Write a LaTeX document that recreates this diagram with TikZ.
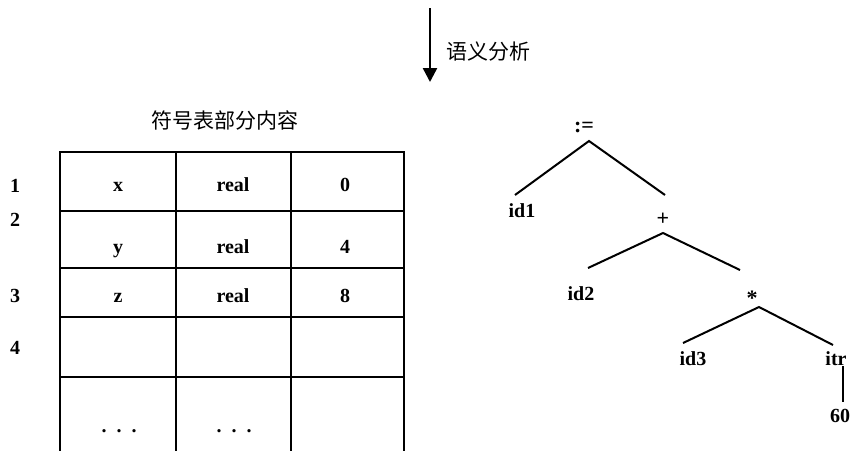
\documentclass[tikz,border=0pt]{standalone}
\usepackage{fontspec}
\setmainfont{Liberation Serif}
\newfontfamily\cjk{Noto Sans CJK SC}
\usetikzlibrary{arrows.meta}
\begin{document}
\begin{tikzpicture}[x=1pt,y=-1pt,
  txt/.style={inner sep=0pt,anchor=base,font=\bfseries\fontsize{20}{20}\selectfont},
  sym/.style={inner sep=0pt,font=\bfseries\fontsize{22}{22}\selectfont},
  cjktxt/.style={inner sep=0pt,font=\cjk\fontsize{21}{21}\selectfont},
  grid/.style={line width=1.8pt},
  edge/.style={line width=2pt}]
\useasboundingbox (0,0) rectangle (856,451);
% arrow and label
\coordinate (atop) at (430,8);
\coordinate (abot) at (430,82);
\draw[line width=2.5pt,-{Triangle[width=14pt,length=14pt]}] (atop) -- (abot);
\node[cjktxt,anchor=west] (sem) at (446,52) {语义分析};
% table title
\node[cjktxt] (title) at (225,120) {符号表部分内容};
% table grid
\draw[grid] (60,152) -- (404,152);
\draw[grid] (60,211) -- (404,211);
\draw[grid] (60,268) -- (404,268);
\draw[grid] (60,317) -- (404,317);
\draw[grid] (60,377) -- (404,377);
\draw[grid] (60,151) -- (60,451);
\draw[grid] (176,151) -- (176,451);
\draw[grid] (291,151) -- (291,451);
\draw[grid] (404,151) -- (404,451);
% row numbers
\node[txt] (r1) at (15,192) {1};
\node[txt] (r2) at (15,226) {2};
\node[txt] (r3) at (15,302) {3};
\node[txt] (r4) at (15,354) {4};
% cells
\node[txt] (c11) at (118,191) {x};
\node[txt] (c12) at (233,191) {real};
\node[txt] (c13) at (345,191) {0};
\node[txt] (c21) at (118,253) {y};
\node[txt] (c22) at (233,253) {real};
\node[txt] (c23) at (345,253) {4};
\node[txt] (c31) at (118,302) {z};
\node[txt] (c32) at (233,302) {real};
\node[txt] (c33) at (345,302) {8};
\node[txt] (c51) at (119,432) {.\hspace{10pt}.\hspace{10pt}.};
\node[txt] (c52) at (234,432) {.\hspace{10pt}.\hspace{10pt}.};
% tree
\node[sym] (root) at (584,127) {:=};
\node[txt] (id1) at (522,217) {id1};
\node[sym] (plus) at (663,219) {+};
\node[txt] (id2) at (581,300) {id2};
\node[sym] (star) at (752,298) {*};
\node[txt] (id3) at (693,365) {id3};
\node[txt] (itr) at (836,365) {itr};
\node[txt] (sixty) at (840,422) {60};
\coordinate (rootA) at (589,141);
\coordinate (id1E) at (515,195);
\coordinate (plusE) at (665,195);
\coordinate (plusA) at (663,233);
\coordinate (id2E) at (588,268);
\coordinate (starE) at (740,270);
\coordinate (starA) at (759,307);
\coordinate (id3E) at (683,343);
\coordinate (itrE) at (833,345);
\coordinate (itrB) at (843,366);
\coordinate (sixE) at (843,402);
\draw[edge] (id1E) -- (rootA) -- (plusE);
\draw[edge] (id2E) -- (plusA) -- (starE);
\draw[edge] (id3E) -- (starA) -- (itrE);
\draw[edge] (itrB) -- (sixE);
\end{tikzpicture}
\end{document}
